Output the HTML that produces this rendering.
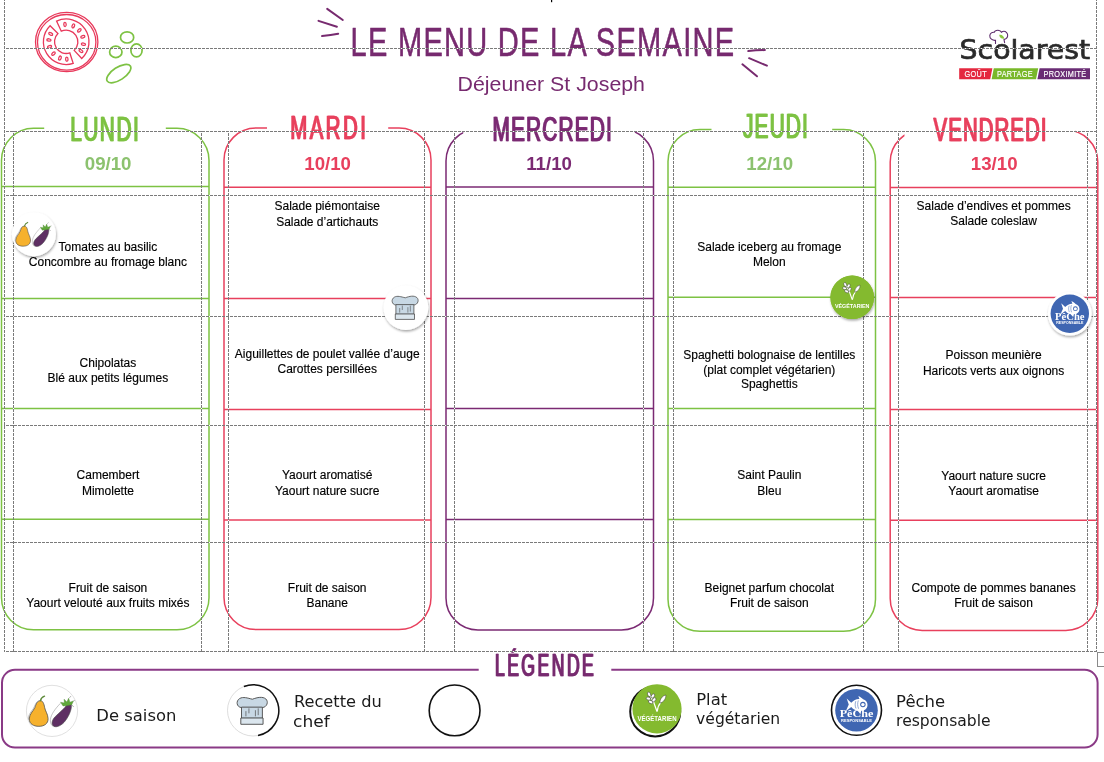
<!DOCTYPE html><html><head><meta charset="utf-8"><title>Le menu de la semaine</title>
<style>html,body{margin:0;padding:0;background:#fff;}svg{display:block}.f{font-family:"Liberation Sans",Arial,sans-serif;font-size:12px;fill:#000;stroke:#000;stroke-width:0.15px;text-anchor:middle}.hw{font-family:"Liberation Sans",Arial,sans-serif;}.lg{font-family:"DejaVu Sans","Liberation Sans",sans-serif;font-size:15px;fill:#1a1a1a}</style></head><body>
<svg width="1104" height="762" viewBox="0 0 1104 762">
<rect width="1104" height="762" fill="#fff"/>
<defs><filter id="dx" x="-10%" y="-10%" width="120%" height="120%"><feOffset dx="1.2" result="o"/><feMerge><feMergeNode in="SourceGraphic"/><feMergeNode in="o"/></feMerge></filter></defs>
<path d="M33.5,128.3 H177.0 A32,32 0 0 1 209.0,160.3 V597.8 A32,32 0 0 1 177.0,629.8 H33.5 A32,32 0 0 1 1.5,597.8 V160.3 A32,32 0 0 1 33.5,128.3 Z" fill="none" stroke="#7dc243" stroke-width="1.5"/>
<line x1="1.5" y1="186.6" x2="209.0" y2="186.6" stroke="#7dc243" stroke-width="1.5"/>
<line x1="1.5" y1="298.6" x2="209.0" y2="298.6" stroke="#7dc243" stroke-width="1.5"/>
<line x1="1.5" y1="408.5" x2="209.0" y2="408.5" stroke="#7dc243" stroke-width="1.5"/>
<line x1="1.5" y1="519.3" x2="209.0" y2="519.3" stroke="#7dc243" stroke-width="1.5"/>
<rect x="44.2" y="124.30000000000001" width="121.60000000000001" height="6" fill="#fff"/>
<path d="M256.0,128.0 H399.0 A32,32 0 0 1 431.0,160.0 V597.6 A32,32 0 0 1 399.0,629.6 H256.0 A32,32 0 0 1 224.0,597.6 V160.0 A32,32 0 0 1 256.0,128.0 Z" fill="none" stroke="#e8405d" stroke-width="1.5"/>
<line x1="224.0" y1="187.2" x2="431.0" y2="187.2" stroke="#e8405d" stroke-width="1.5"/>
<line x1="224.0" y1="298.6" x2="431.0" y2="298.6" stroke="#e8405d" stroke-width="1.5"/>
<line x1="224.0" y1="409.4" x2="431.0" y2="409.4" stroke="#e8405d" stroke-width="1.5"/>
<line x1="224.0" y1="520.1" x2="431.0" y2="520.1" stroke="#e8405d" stroke-width="1.5"/>
<rect x="267" y="124.0" width="121.19999999999999" height="6" fill="#fff"/>
<path d="M478.0,129.0 H621.5 A32,32 0 0 1 653.5,161.0 V598.0 A32,32 0 0 1 621.5,630.0 H478.0 A32,32 0 0 1 446.0,598.0 V161.0 A32,32 0 0 1 478.0,129.0 Z" fill="none" stroke="#7b2a73" stroke-width="1.5"/>
<line x1="446.0" y1="187.1" x2="653.5" y2="187.1" stroke="#7b2a73" stroke-width="1.5"/>
<line x1="446.0" y1="298.4" x2="653.5" y2="298.4" stroke="#7b2a73" stroke-width="1.5"/>
<line x1="446.0" y1="408.4" x2="653.5" y2="408.4" stroke="#7b2a73" stroke-width="1.5"/>
<line x1="446.0" y1="519.4" x2="653.5" y2="519.4" stroke="#7b2a73" stroke-width="1.5"/>
<rect x="463.3" y="125.0" width="171.40000000000003" height="10" fill="#fff"/>
<path d="M700.0,129.6 H843.5 A32,32 0 0 1 875.5,161.6 V599.3 A32,32 0 0 1 843.5,631.3 H700.0 A32,32 0 0 1 668.0,599.3 V161.6 A32,32 0 0 1 700.0,129.6 Z" fill="none" stroke="#7dc243" stroke-width="1.5"/>
<line x1="668.0" y1="187.3" x2="875.5" y2="187.3" stroke="#7dc243" stroke-width="1.5"/>
<line x1="668.0" y1="297.2" x2="875.5" y2="297.2" stroke="#7dc243" stroke-width="1.5"/>
<line x1="668.0" y1="408.4" x2="875.5" y2="408.4" stroke="#7dc243" stroke-width="1.5"/>
<line x1="668.0" y1="519.4" x2="875.5" y2="519.4" stroke="#7dc243" stroke-width="1.5"/>
<rect x="711.5" y="125.6" width="120.70000000000005" height="6" fill="#fff"/>
<path d="M922.2,130.0 H1065.8 A32,32 0 0 1 1097.8,162.0 V598.4 A32,32 0 0 1 1065.8,630.4 H922.2 A32,32 0 0 1 890.2,598.4 V162.0 A32,32 0 0 1 922.2,130.0 Z" fill="none" stroke="#e8405d" stroke-width="1.5"/>
<line x1="890.2" y1="187.5" x2="1097.8" y2="187.5" stroke="#e8405d" stroke-width="1.5"/>
<line x1="890.2" y1="297.4" x2="1097.8" y2="297.4" stroke="#e8405d" stroke-width="1.5"/>
<line x1="890.2" y1="409.4" x2="1097.8" y2="409.4" stroke="#e8405d" stroke-width="1.5"/>
<line x1="890.2" y1="520.3" x2="1097.8" y2="520.3" stroke="#e8405d" stroke-width="1.5"/>
<rect x="904.5" y="126.0" width="170.79999999999995" height="10" fill="#fff"/>
<text filter="url(#dx)" transform="translate(69.7,140.5) scale(0.6,1)" font-family="Liberation Sans, Arial, sans-serif" font-size="34.87" font-weight="400" letter-spacing="2.417" fill="#7dc243" stroke="#7dc243" stroke-width="0.3" stroke-linejoin="round" vector-effect="non-scaling-stroke">LUNDI</text>
<text x="108.1" y="169.6" font-family="Liberation Sans, Arial, sans-serif" font-weight="bold" font-size="18.67" fill="#8cc26f" text-anchor="middle">09/10</text>
<text filter="url(#dx)" transform="translate(289.8,139.2) scale(0.6,1)" font-family="Liberation Sans, Arial, sans-serif" font-size="33.94" font-weight="400" letter-spacing="4.167" fill="#e8405d" stroke="#e8405d" stroke-width="0.3" stroke-linejoin="round" vector-effect="non-scaling-stroke">MARDI</text>
<text x="327.6" y="169.6" font-family="Liberation Sans, Arial, sans-serif" font-weight="bold" font-size="18.67" fill="#e8405d" text-anchor="middle">10/10</text>
<text filter="url(#dx)" transform="translate(492,141.3) scale(0.6,1)" font-family="Liberation Sans, Arial, sans-serif" font-size="34.87" font-weight="400" letter-spacing="1.857" fill="#7b2a73" stroke="#7b2a73" stroke-width="0.3" stroke-linejoin="round" vector-effect="non-scaling-stroke">MERCREDI</text>
<text x="549.1" y="169.6" font-family="Liberation Sans, Arial, sans-serif" font-weight="bold" font-size="18.67" fill="#7b2a73" text-anchor="middle">11/10</text>
<text filter="url(#dx)" transform="translate(742.5,138.2) scale(0.6,1)" font-family="Liberation Sans, Arial, sans-serif" font-size="34.78" font-weight="400" letter-spacing="1.917" fill="#7dc243" stroke="#7dc243" stroke-width="0.3" stroke-linejoin="round" vector-effect="non-scaling-stroke">JEUDI</text>
<text x="769.7" y="169.6" font-family="Liberation Sans, Arial, sans-serif" font-weight="bold" font-size="18.67" fill="#8cc26f" text-anchor="middle">12/10</text>
<text filter="url(#dx)" transform="translate(933,140.7) scale(0.6,1)" font-family="Liberation Sans, Arial, sans-serif" font-size="33.98" font-weight="400" letter-spacing="1.833" fill="#e8405d" stroke="#e8405d" stroke-width="0.3" stroke-linejoin="round" vector-effect="non-scaling-stroke">VENDREDI</text>
<text x="994.2" y="169.6" font-family="Liberation Sans, Arial, sans-serif" font-weight="bold" font-size="18.67" fill="#e8405d" text-anchor="middle">13/10</text>
<text class="f" x="107.9" y="250.9">Tomates au basilic</text><text class="f" x="107.9" y="265.9">Concombre au fromage blanc</text>
<text class="f" x="107.9" y="366.5">Chipolatas</text><text class="f" x="107.9" y="381.5">Blé aux petits légumes</text>
<text class="f" x="107.9" y="478.8">Camembert</text><text class="f" x="107.9" y="494.7">Mimolette</text>
<text class="f" x="107.9" y="592.4">Fruit de saison</text><text class="f" x="107.9" y="607.3">Yaourt velouté aux fruits mixés</text>
<text class="f" x="327.2" y="209.9">Salade piémontaise</text><text class="f" x="327.2" y="225.5">Salade d’artichauts</text>
<text class="f" x="327.2" y="358.1">Aiguillettes de poulet vallée d’auge</text><text class="f" x="327.2" y="373.3">Carottes persillées</text>
<text class="f" x="327.2" y="478.8">Yaourt aromatisé</text><text class="f" x="327.2" y="494.5">Yaourt nature sucre</text>
<text class="f" x="327.2" y="592.4">Fruit de saison</text><text class="f" x="327.2" y="607.3">Banane</text>
<text class="f" x="769.3" y="250.7">Salade iceberg au fromage</text><text class="f" x="769.3" y="265.7">Melon</text>
<text class="f" x="769.3" y="359.4">Spaghetti bolognaise de lentilles</text><text class="f" x="769.3" y="373.9">(plat complet végétarien)</text><text class="f" x="769.3" y="388.4">Spaghettis</text>
<text class="f" x="769.3" y="478.8">Saint Paulin</text><text class="f" x="769.3" y="494.8">Bleu</text>
<text class="f" x="769.3" y="592.4">Beignet parfum chocolat</text><text class="f" x="769.3" y="607.3">Fruit de saison</text>
<text class="f" x="993.6" y="209.8">Salade d’endives et pommes</text><text class="f" x="993.6" y="224.6">Salade coleslaw</text>
<text class="f" x="993.6" y="359.4">Poisson meunière</text><text class="f" x="993.6" y="374.6">Haricots verts aux oignons</text>
<text class="f" x="993.6" y="479.7">Yaourt nature sucre</text><text class="f" x="993.6" y="494.6">Yaourt aromatise</text>
<text class="f" x="993.6" y="592.4">Compote de pommes bananes</text><text class="f" x="993.6" y="607.3">Fruit de saison</text>
<text transform="translate(350.6,55.8) scale(0.72,1)" font-family="Liberation Sans, Arial, sans-serif" font-size="40.33" font-weight="400" letter-spacing="1.764" fill="#772a6f" stroke="#772a6f" stroke-width="0.5" stroke-linejoin="round" vector-effect="non-scaling-stroke">LE MENU DE LA SEMAINE</text>
<g stroke="#772a6f" stroke-width="2" stroke-linecap="round" fill="none"><path d="M327.2,8.9 L342.8,20"/><path d="M318.5,20.9 L336.9,26.8"/><path d="M322.1,36.1 Q331,35.2 338.2,33.8"/><path d="M748.3,51.1 Q756,50.2 764.9,50.1"/><path d="M749.1,58.2 L766.9,65.7"/><path d="M742.4,64.3 L757,76.3"/></g>
<text x="551.3" y="90.6" font-family="Liberation Sans, Arial, sans-serif" font-size="21" fill="#772a6f" text-anchor="middle" textLength="187.4" lengthAdjust="spacingAndGlyphs">Déjeuner St Joseph</text>
<path d="M478.7,669.8 H15.0 A13,13 0 0 0 2.0,682.8 V734.6 A13,13 0 0 0 15.0,747.6 H1084.6 A13,13 0 0 0 1097.6,734.6 V682.8 A13,13 0 0 0 1084.6,669.8 H611.3" fill="none" stroke="#8a3a86" stroke-width="2"/>
<text filter="url(#dx)" transform="translate(494.4,676.0) scale(0.55,1)" font-family="Liberation Sans, Arial, sans-serif" font-size="32.0" font-weight="400" letter-spacing="4.5" fill="#772a6f" stroke="#772a6f" stroke-width="0.4" stroke-linejoin="round" vector-effect="non-scaling-stroke">LÉGENDE</text>
<text class="lg" x="96.3" y="720.8" textLength="80.1" lengthAdjust="spacingAndGlyphs">De saison</text>
<text class="lg" x="293.9" y="707.2" textLength="87.9" lengthAdjust="spacingAndGlyphs">Recette du</text>
<text class="lg" x="293.0" y="726.7" textLength="36.7" lengthAdjust="spacingAndGlyphs">chef</text>
<text class="lg" x="696.2" y="704.8" textLength="31.0" lengthAdjust="spacingAndGlyphs">Plat</text>
<text class="lg" x="696.1" y="723.5" textLength="84.1" lengthAdjust="spacingAndGlyphs">végétarien</text>
<text class="lg" x="896.1" y="707.4" textLength="49.0" lengthAdjust="spacingAndGlyphs">Pêche</text>
<text class="lg" x="896.1" y="726.4" textLength="94.5" lengthAdjust="spacingAndGlyphs">responsable</text>
<circle cx="454.6" cy="710.4" r="25.4" fill="none" stroke="#111" stroke-width="1.6"/>
<g fill="none" stroke="#e8395b" stroke-width="1.3"><ellipse cx="66.7" cy="42.0" rx="31.2" ry="29.6"/><ellipse cx="66.7" cy="42.3" rx="29.2" ry="27.8"/><path d="M56.56,21.14 A22.8,22.8 0 0 1 81.75,58.47 L74.18,50.36 A11.7,11.7 0 0 0 61.26,31.20 Z"/><path d="M73.25,63.48 A22.8,22.8 0 0 1 50.08,25.68 L57.93,33.53 A11.7,11.7 0 0 0 69.82,52.93 Z"/><ellipse cx="64.99" cy="24.44" rx="1.2" ry="2.1" transform="rotate(356 64.99 24.44)"/><ellipse cx="73.28" cy="25.90" rx="1.2" ry="2.1" transform="rotate(384 73.28 25.90)"/><ellipse cx="79.33" cy="30.38" rx="1.2" ry="2.1" transform="rotate(409 79.33 30.38)"/><ellipse cx="82.84" cy="36.71" rx="1.2" ry="2.1" transform="rotate(433 82.84 36.71)"/><ellipse cx="83.43" cy="44.22" rx="1.2" ry="2.1" transform="rotate(98 83.43 44.22)"/><ellipse cx="80.96" cy="51.02" rx="1.2" ry="2.1" transform="rotate(122 80.96 51.02)"/><ellipse cx="50.70" cy="33.90" rx="1.2" ry="2.1" transform="rotate(297 50.70 33.90)"/><ellipse cx="48.90" cy="39.98" rx="1.2" ry="2.1" transform="rotate(276 48.90 39.98)"/><ellipse cx="49.56" cy="46.89" rx="1.2" ry="2.1" transform="rotate(253 49.56 46.89)"/><ellipse cx="53.47" cy="53.67" rx="1.2" ry="2.1" transform="rotate(227 53.47 53.67)"/><ellipse cx="59.96" cy="58.04" rx="1.2" ry="2.1" transform="rotate(201 59.96 58.04)"/><ellipse cx="66.81" cy="59.19" rx="1.2" ry="2.1" transform="rotate(178 66.81 59.19)"/></g>
<g fill="none" stroke="#7dc243" stroke-width="1.7"><ellipse cx="127.1" cy="37.4" rx="6.6" ry="5.6"/><ellipse cx="115.8" cy="51.9" rx="6.2" ry="5.7"/><ellipse cx="136.5" cy="50.4" rx="5.6" ry="6.5"/><ellipse cx="118.8" cy="73.6" rx="13.8" ry="6.3" transform="rotate(-33 118.8 73.6)"/></g>
<text x="959.6" y="59" font-family="DejaVu Sans, Liberation Sans, sans-serif" font-size="27" fill="#2a2a2a" stroke="#2a2a2a" stroke-width="0.7" textLength="130.4" lengthAdjust="spacingAndGlyphs">Scolarest</text>
<g fill="none" stroke="#5b2a6b" stroke-width="1.1" stroke-linecap="round"><path d="M995.5,43.5 L995.5,40.3 C992.5,40.6 989.5,38.5 989.8,35.6 C990.1,33.2 992.3,31.9 994.2,32.3 C995,30.5 997.5,29.9 999.2,30.6 C1000.3,31 1001,31.6 1001.4,32.2 C1002.8,31.2 1005.2,31.2 1006.6,32.6 C1008.3,34.4 1008,37.5 1005.8,38.8 L1004,39.6 L1004.6,42.6"/></g><path d="M999.2,34.8 C1001.8,34.2 1004,36 1004.3,38.8 C1001.6,39.2 999.4,37.4 999.2,34.8 Z" fill="#8cc63f"/>
<path d="M959.2,68.2 H992.4 L990.2,79.3 H959.2 Z" fill="#e4283f"/><path d="M993.8,68.2 H1038.2 L1036,79.3 H991.6 Z" fill="#79b829"/><path d="M1039.6,68.2 H1090 V79.3 H1037.4 Z" fill="#6a2c74"/>
<text transform="translate(964.6,77.3) scale(0.78,1)" font-family="Liberation Sans, Arial, sans-serif" font-size="9.4" font-weight="400" letter-spacing="0.4" fill="#fff" stroke="#fff" stroke-width="0.15" stroke-linejoin="round" vector-effect="non-scaling-stroke">GOÛT</text>
<text transform="translate(997,77.3) scale(0.78,1)" font-family="Liberation Sans, Arial, sans-serif" font-size="9.4" font-weight="400" letter-spacing="0.4" fill="#fff" stroke="#fff" stroke-width="0.15" stroke-linejoin="round" vector-effect="non-scaling-stroke">PARTAGE</text>
<text transform="translate(1043.5,77.3) scale(0.78,1)" font-family="Liberation Sans, Arial, sans-serif" font-size="9.4" font-weight="400" letter-spacing="0.4" fill="#fff" stroke="#fff" stroke-width="0.15" stroke-linejoin="round" vector-effect="non-scaling-stroke">PROXIMITÉ</text>
<g stroke="#fff" stroke-width="1" fill="none"><path d="M4,48.5 H1097" stroke-dashoffset="2"/><path d="M4,131.5 H1097" stroke-dashoffset="2"/><path d="M4,195.5 H1097" stroke-dashoffset="2"/><path d="M4,316.5 H1097" stroke-dashoffset="2"/><path d="M4,425.5 H1097" stroke-dashoffset="2"/><path d="M4,542.5 H1097" stroke-dashoffset="2"/><path d="M4,651.5 H1097" stroke-dashoffset="2"/><path d="M4.5,0 V652" stroke-dashoffset="2"/><path d="M1096.5,0 V652" stroke-dashoffset="2"/><path d="M13.5,131 V652" stroke-dashoffset="2"/><path d="M201.5,131 V652" stroke-dashoffset="2"/><path d="M228.5,131 V652" stroke-dashoffset="2"/><path d="M424.5,131 V652" stroke-dashoffset="2"/><path d="M454.5,131 V652" stroke-dashoffset="2"/><path d="M643.5,131 V652" stroke-dashoffset="2"/><path d="M673.5,131 V652" stroke-dashoffset="2"/><path d="M863.5,131 V652" stroke-dashoffset="2"/><path d="M898.5,131 V652" stroke-dashoffset="2"/><path d="M1087.5,131 V652" stroke-dashoffset="2"/></g>
<g stroke="#7a7a7a" stroke-width="1" stroke-dasharray="3 1" fill="none"><path d="M4,48.5 H1097" stroke-dashoffset="2"/><path d="M4,131.5 H1097" stroke-dashoffset="2"/><path d="M4,195.5 H1097" stroke-dashoffset="2"/><path d="M4,316.5 H1097" stroke-dashoffset="2"/><path d="M4,425.5 H1097" stroke-dashoffset="2"/><path d="M4,542.5 H1097" stroke-dashoffset="2"/><path d="M4,651.5 H1097" stroke-dashoffset="2"/><path d="M4.5,0 V652" stroke-dashoffset="2"/><path d="M1096.5,0 V652" stroke-dashoffset="2"/><path d="M13.5,131 V652" stroke-dashoffset="2"/><path d="M201.5,131 V652" stroke-dashoffset="2"/><path d="M228.5,131 V652" stroke-dashoffset="2"/><path d="M424.5,131 V652" stroke-dashoffset="2"/><path d="M454.5,131 V652" stroke-dashoffset="2"/><path d="M643.5,131 V652" stroke-dashoffset="2"/><path d="M673.5,131 V652" stroke-dashoffset="2"/><path d="M863.5,131 V652" stroke-dashoffset="2"/><path d="M898.5,131 V652" stroke-dashoffset="2"/><path d="M1087.5,131 V652" stroke-dashoffset="2"/></g>
<rect x="1097.5" y="652.5" width="8" height="14" fill="none" stroke="#8a8a8a" stroke-width="1"/>
<rect x="551" y="0" width="1.2" height="2.2" fill="#000"/>
<defs><filter id="sh" x="-30%" y="-30%" width="160%" height="170%"><feDropShadow dx="0.6" dy="1.6" stdDeviation="1.3" flood-color="#000" flood-opacity="0.35"/></filter></defs>
<g filter="url(#sh)"><circle cx="33.9" cy="234.2" r="22" fill="#fff"/><circle cx="405.9" cy="307.6" r="22.4" fill="#fff"/><circle cx="1069.8" cy="313.7" r="21.9" fill="#fff"/><circle cx="852.2" cy="297.3" r="21.8" fill="#84ba2f"/></g>
<g transform="translate(33.9,234.6) scale(1.0)"><path d="M-9.6,-8.6 C-7.6,-8.8 -6.6,-6.2 -6.1,-3.2 C-5.6,-0.4 -3.6,1.8 -3.4,5.4 C-3.2,9.6 -6.6,11.6 -10.6,11.6 C-14.8,11.6 -18.2,9.8 -18.2,5.8 C-18.2,2 -15.2,-0.2 -13.8,-3.2 C-12.8,-5.8 -12.4,-8.4 -9.6,-8.6 Z" fill="#f6b12d" stroke="#4a4a4a" stroke-width="0.6"/><path d="M-10.8,-8.2 C-13.2,-7.6 -13.6,-4.6 -15,-2.4 C-16.6,0 -19.2,2.4 -18.8,6.4" fill="none" stroke="#9a9a9a" stroke-width="0.5"/><path d="M-9.4,-8.6 C-9,-10.6 -8,-11.6 -6.2,-12.2" fill="none" stroke="#5d8a3a" stroke-width="1.1" stroke-linecap="round"/><path d="M6.4,-6.6 C2.6,-2.6 -1.2,2 -1.6,6.4 C-1.8,9.2 -0.6,11 0.8,11.8" fill="none" stroke="#a0a0a0" stroke-width="0.5"/><path d="M14.6,-6.4 C15.8,-3.4 13.8,2.4 10.2,7.2 C7.6,10.8 3.2,12.9 1,11.5 C-1,10 -0.6,6.8 2.2,4 C5.6,0.6 9.4,-2.2 11.8,-5.8 Z" fill="#5e2f63" stroke="#4a4a4a" stroke-width="0.5"/><path d="M8.4,-4.4 L6.4,-7.4 L9.4,-6.8 L9.2,-9.8 L11.4,-7.6 L12.8,-10.6 L13.8,-7.4 L16.6,-8.4 L15.2,-5.4 L12.4,-4.8 Z" fill="#5fa83a" stroke="#4e7f33" stroke-width="0.3"/><path d="M13.4,-10.8 L14.6,-12.2 M16.6,-8.4 L17.6,-8.8 M15.4,-5.2 L16.8,-3.6" stroke="#9a9a9a" stroke-width="0.6"/></g>
<g transform="translate(405.9,307.6) scale(1.0)" stroke="#4e4e4e" stroke-width="0.8" stroke-linejoin="round"><path d="M-10,-2.6 C-14.4,-3 -15,-8.4 -11.6,-10.4 C-8.6,-12.2 -4.8,-10.8 -0.6,-9.8 C3.6,-11.4 8.2,-12.4 11,-10 C13.4,-7.8 12.2,-3 8,-2.6 Z" fill="#c8d8e4"/><path d="M-10,-3 H8 V6.6 H-10 Z" fill="#c8d8e4"/><path d="M-10.6,6.4 H8.6 V11.8 H-10.6 Z" fill="#dbe6ee"/><path d="M-6.2,0.8 V4.6 M-3.6,-1.6 V2 M2,0 V4.6 M4.4,-1.6 V3.6" stroke-width="0.6" stroke-linecap="round"/></g>
<circle cx="852.2" cy="297.3" r="21.8" fill="#84ba2f"/><g transform="translate(852.2,297.3) scale(1.0)" fill="#fff" stroke="#3a3a3a" stroke-width="0.45"><path d="M0,2.4 C-1.4,-2.6 -3.4,-7.6 -6.4,-12.6" fill="none" stroke="#fff" stroke-width="1.1"/><path d="M0.2,2.4 C0.6,-1 1.6,-3.6 3.2,-5.4" fill="none" stroke="#fff" stroke-width="1.1"/><ellipse cx="-7" cy="-12.8" rx="1.3" ry="2.1" transform="rotate(-20 -7 -12.8)"/><ellipse cx="-3.6" cy="-11.4" rx="1.3" ry="2.1" transform="rotate(35 -3.6 -11.4)"/><ellipse cx="-7.6" cy="-9" rx="2.1" ry="1.3" transform="rotate(15 -7.6 -9)"/><ellipse cx="-2.6" cy="-8" rx="1.3" ry="2.1" transform="rotate(40 -2.6 -8)"/><ellipse cx="-5.6" cy="-6" rx="2.1" ry="1.3" transform="rotate(25 -5.6 -6)"/><path d="M2.6,-5 C2.4,-8.6 4.6,-11.4 7.8,-12.2 C8,-8.8 6,-6 2.6,-5 Z"/></g><text x="852.2" y="307.7" font-family="Liberation Sans, Arial, sans-serif" font-weight="bold" font-size="6.20" fill="#fff" text-anchor="middle" textLength="34.6" lengthAdjust="spacingAndGlyphs">VÉGÉTARIEN</text>
<circle cx="1069.8" cy="313.7" r="19.2" fill="#3f66b2"/><g transform="translate(1069.8,316.7) scale(1.0)" fill="#fff"><path d="M-8.6,-13.4 L-4.6,-9.6 C-2.6,-12 0,-13.2 2.6,-13 L1.6,-15.6 C3.6,-14.6 5,-13.6 5.8,-12.6 C8.6,-11.8 10,-9.4 9.6,-6.8 C9.2,-4.2 7,-2.6 4.2,-2.6 L3.4,0.4 C2.4,-1 1.6,-2 0.6,-2.8 C-1.6,-3.2 -3.4,-4.4 -4.6,-5.8 L-9.4,-2.2 L-6.8,-8 Z"/><circle cx="5.6" cy="-8" r="2.4" fill="#3f66b2"/><circle cx="5.6" cy="-8" r="1.5"/><path d="M-0.6,-11 C-1.4,-9 -1.4,-6.6 -0.4,-4.6 M1.6,-11.6 C0.8,-9.4 0.8,-6.8 1.8,-4.4" stroke="#3f66b2" stroke-width="0.5" fill="none"/></g><text x="1069.8" y="320.0" font-family="Liberation Serif, serif" font-weight="bold" font-size="9.60" fill="#fff" text-anchor="middle" textLength="29.5" lengthAdjust="spacingAndGlyphs">PêChe</text><text x="1069.8" y="324.3" font-family="Liberation Sans, Arial, sans-serif" font-weight="bold" font-size="3.60" fill="#fff" text-anchor="middle" textLength="27.0" lengthAdjust="spacingAndGlyphs">RESPONSABLE</text>
<circle cx="52" cy="710.9" r="25.6" fill="#fff" stroke="#d8d8d8" stroke-width="0.8"/>
<g transform="translate(52.4,711.6) scale(1.27)"><path d="M-9.6,-8.6 C-7.6,-8.8 -6.6,-6.2 -6.1,-3.2 C-5.6,-0.4 -3.6,1.8 -3.4,5.4 C-3.2,9.6 -6.6,11.6 -10.6,11.6 C-14.8,11.6 -18.2,9.8 -18.2,5.8 C-18.2,2 -15.2,-0.2 -13.8,-3.2 C-12.8,-5.8 -12.4,-8.4 -9.6,-8.6 Z" fill="#f6b12d" stroke="#4a4a4a" stroke-width="0.6"/><path d="M-10.8,-8.2 C-13.2,-7.6 -13.6,-4.6 -15,-2.4 C-16.6,0 -19.2,2.4 -18.8,6.4" fill="none" stroke="#9a9a9a" stroke-width="0.5"/><path d="M-9.4,-8.6 C-9,-10.6 -8,-11.6 -6.2,-12.2" fill="none" stroke="#5d8a3a" stroke-width="1.1" stroke-linecap="round"/><path d="M6.4,-6.6 C2.6,-2.6 -1.2,2 -1.6,6.4 C-1.8,9.2 -0.6,11 0.8,11.8" fill="none" stroke="#a0a0a0" stroke-width="0.5"/><path d="M14.6,-6.4 C15.8,-3.4 13.8,2.4 10.2,7.2 C7.6,10.8 3.2,12.9 1,11.5 C-1,10 -0.6,6.8 2.2,4 C5.6,0.6 9.4,-2.2 11.8,-5.8 Z" fill="#5e2f63" stroke="#4a4a4a" stroke-width="0.5"/><path d="M8.4,-4.4 L6.4,-7.4 L9.4,-6.8 L9.2,-9.8 L11.4,-7.6 L12.8,-10.6 L13.8,-7.4 L16.6,-8.4 L15.2,-5.4 L12.4,-4.8 Z" fill="#5fa83a" stroke="#4e7f33" stroke-width="0.3"/><path d="M13.4,-10.8 L14.6,-12.2 M16.6,-8.4 L17.6,-8.8 M15.4,-5.2 L16.8,-3.6" stroke="#9a9a9a" stroke-width="0.6"/></g>
<circle cx="253.1" cy="710.4" r="25.6" fill="#fff" stroke="#cfcfcf" stroke-width="0.7"/><path d="M243.9,686.5 A25.6,25.6 0 1 1 258,735.5" fill="none" stroke="#111" stroke-width="1.5"/>
<g transform="translate(253.1,710.6) scale(1.16)" stroke="#4e4e4e" stroke-width="0.8" stroke-linejoin="round"><path d="M-10,-2.6 C-14.4,-3 -15,-8.4 -11.6,-10.4 C-8.6,-12.2 -4.8,-10.8 -0.6,-9.8 C3.6,-11.4 8.2,-12.4 11,-10 C13.4,-7.8 12.2,-3 8,-2.6 Z" fill="#c8d8e4"/><path d="M-10,-3 H8 V6.6 H-10 Z" fill="#c8d8e4"/><path d="M-10.6,6.4 H8.6 V11.8 H-10.6 Z" fill="#dbe6ee"/><path d="M-6.2,0.8 V4.6 M-3.6,-1.6 V2 M2,0 V4.6 M4.4,-1.6 V3.6" stroke-width="0.6" stroke-linecap="round"/></g>
<circle cx="655.2" cy="711.4" r="25" fill="#fff" stroke="#111" stroke-width="2"/>
<circle cx="657" cy="708.8" r="24.6" fill="#84ba2f"/><g transform="translate(657,708.8) scale(1.13)" fill="#fff" stroke="#3a3a3a" stroke-width="0.45"><path d="M0,2.4 C-1.4,-2.6 -3.4,-7.6 -6.4,-12.6" fill="none" stroke="#fff" stroke-width="1.1"/><path d="M0.2,2.4 C0.6,-1 1.6,-3.6 3.2,-5.4" fill="none" stroke="#fff" stroke-width="1.1"/><ellipse cx="-7" cy="-12.8" rx="1.3" ry="2.1" transform="rotate(-20 -7 -12.8)"/><ellipse cx="-3.6" cy="-11.4" rx="1.3" ry="2.1" transform="rotate(35 -3.6 -11.4)"/><ellipse cx="-7.6" cy="-9" rx="2.1" ry="1.3" transform="rotate(15 -7.6 -9)"/><ellipse cx="-2.6" cy="-8" rx="1.3" ry="2.1" transform="rotate(40 -2.6 -8)"/><ellipse cx="-5.6" cy="-6" rx="2.1" ry="1.3" transform="rotate(25 -5.6 -6)"/><path d="M2.6,-5 C2.4,-8.6 4.6,-11.4 7.8,-12.2 C8,-8.8 6,-6 2.6,-5 Z"/></g><text x="657" y="720.5519999999999" font-family="Liberation Sans, Arial, sans-serif" font-weight="bold" font-size="7.01" fill="#fff" text-anchor="middle" textLength="39.1" lengthAdjust="spacingAndGlyphs">VÉGÉTARIEN</text>
<circle cx="856.5" cy="710.3" r="25" fill="#fff" stroke="#111" stroke-width="1.6"/>
<circle cx="856.5" cy="710.3" r="21.3" fill="#3f66b2"/><g transform="translate(856.5,713.7199999999999) scale(1.14)" fill="#fff"><path d="M-8.6,-13.4 L-4.6,-9.6 C-2.6,-12 0,-13.2 2.6,-13 L1.6,-15.6 C3.6,-14.6 5,-13.6 5.8,-12.6 C8.6,-11.8 10,-9.4 9.6,-6.8 C9.2,-4.2 7,-2.6 4.2,-2.6 L3.4,0.4 C2.4,-1 1.6,-2 0.6,-2.8 C-1.6,-3.2 -3.4,-4.4 -4.6,-5.8 L-9.4,-2.2 L-6.8,-8 Z"/><circle cx="5.6" cy="-8" r="2.4" fill="#3f66b2"/><circle cx="5.6" cy="-8" r="1.5"/><path d="M-0.6,-11 C-1.4,-9 -1.4,-6.6 -0.4,-4.6 M1.6,-11.6 C0.8,-9.4 0.8,-6.8 1.8,-4.4" stroke="#3f66b2" stroke-width="0.5" fill="none"/></g><text x="856.5" y="717.482" font-family="Liberation Serif, serif" font-weight="bold" font-size="10.94" fill="#fff" text-anchor="middle" textLength="33.6" lengthAdjust="spacingAndGlyphs">PêChe</text><text x="856.5" y="722.3839999999999" font-family="Liberation Sans, Arial, sans-serif" font-weight="bold" font-size="4.10" fill="#fff" text-anchor="middle" textLength="30.8" lengthAdjust="spacingAndGlyphs">RESPONSABLE</text>
</svg></body></html>
